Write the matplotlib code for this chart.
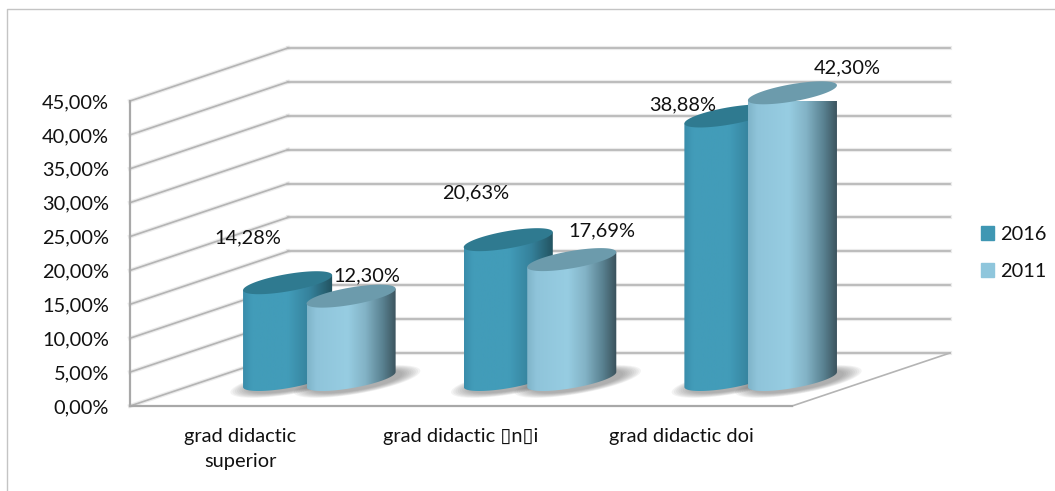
import numpy as np
import matplotlib
matplotlib.use('Agg')
import matplotlib.pyplot as plt
from matplotlib.colors import LinearSegmentedColormap
from matplotlib.lines import Line2D
from matplotlib.patches import Patch, Polygon

plt.rcParams['font.family'] = ['Lato', 'DejaVu Sans']

categories = ['grad didactic\nsuperior', 'grad didactic \u25afn\u25afi', 'grad didactic doi']
val_2016 = [14.28, 20.63, 38.88]
val_2011 = [12.30, 17.69, 42.30]
labels_2016 = ['14,28%', '20,63%', '38,88%']
labels_2011 = ['12,30%', '17,69%', '42,30%']
ticks = [0, 5, 10, 15, 20, 25, 30, 35, 40, 45]
tick_labels = ['0,00%', '5,00%', '10,00%', '15,00%', '20,00%', '25,00%', '30,00%', '35,00%', '40,00%', '45,00%']

# label offsets from the top of each cylinder, pixels
off_2016 = [(-40, 45), (-33, 47), (-46, 11)]
off_2011 = [(16, 20), (30, 29), (55, 25)]

fs = 14.4
fig = plt.figure(figsize=(10.55, 4.91), dpi=100)
ax = fig.add_axes([130 / 1055, (491 - 406) / 491, 662 / 1055, 305 / 491])
ax.set_xlim(0, 3)
ax.set_ylim(0, 45)

px = 3 / 662      # data x per pixel
py = 45 / 305     # data y per pixel
dx, dy = 158 * px, 53 * py   # depth of the fake 3d box

for t in ticks:
    for lw, c, al in [(3.0, '#d4d4d4', 0.45), (1.2, '#b4b4b4', 1)]:
        ax.plot([dx, 3 + dx], [t + dy, t + dy], color=c, lw=lw, alpha=al, clip_on=False, zorder=1)
        ax.plot([0, dx], [t, t + dy], color=c, lw=lw, alpha=al, clip_on=False, zorder=1)
ax.plot([3, 3 + dx], [0, dy], color='#b4b4b4', lw=1.2, clip_on=False, zorder=1)

cmap_dark = LinearSegmentedColormap.from_list('d', [(0, '#3a8dab'), (.1, '#429cb9'), (.5, '#429cb9'),
                                                    (.75, '#35819b'), (1, '#22525f')])
cmap_light = LinearSegmentedColormap.from_list('l', [(0, '#7fb4c9'), (.1, '#8fc4da'), (.45, '#97cde2'),
                                                     (.65, '#83b3c6'), (.85, '#58808f'), (1, '#3a515b')])
A, B, C = 33.8, 29, 11.5   # ellipse shape in pixels
T0 = np.arctan2(B, A)


def ellipse(cx, cy, t):
    return cx + (A * np.cos(t) + B * np.sin(t)) * px, cy + C * np.sin(t) * py


def cylinder(cx, val, cmap, top_c, z):
    base = dy / 2
    full = np.linspace(0, 2 * np.pi, 90)
    # soft shadow on the floor
    sx, sy = ellipse(cx, base, full)
    for grow in np.linspace(1.42, 1.02, 9):
        ax.fill(cx + (sx - cx) * grow + 6 * px, base + (sy - base) * grow - 2 * py, color='#606060',
                alpha=.07, lw=0, clip_on=False, zorder=z - 0.2)
    # body: front half of the base ellipse, then straight up to the top
    bx, by = ellipse(cx, base, np.linspace(T0 + np.pi, T0 + 2 * np.pi, 90))
    poly = np.column_stack([np.r_[bx, bx[-1], bx[0]], np.r_[by, by[-1] + val, by[0] + val]])
    im = ax.imshow(np.linspace(0, 1, 128)[None, :], cmap=cmap, aspect='auto', zorder=z,
                   extent=[bx.min(), bx.max(), 0, 45])
    im.set_clip_box(fig.bbox)
    im.set_clip_path(Polygon(poly, closed=True, transform=ax.transData))
    tx, ty = ellipse(cx, base + val, full)
    ax.fill(tx, ty, color=top_c, lw=0, clip_on=False, zorder=z + 0.1)


shift = 31.75 * px
for i in range(3):
    c = i + 0.5 + dx / 2
    cylinder(c - shift, val_2016[i], cmap_dark, '#2f7a90', 3 + i)
    cylinder(c + shift, val_2011[i], cmap_light, '#6c9bac', 3.5 + i)
    for x, v, lab, off in [(c - shift, val_2016[i], labels_2016[i], off_2016[i]),
                           (c + shift, val_2011[i], labels_2011[i], off_2011[i])]:
        ax.annotate(lab, (x, v + dy / 2), xytext=off, textcoords='offset pixels', ha='center', va='center',
                    fontsize=fs, color='#111111', zorder=10, annotation_clip=False)

ax.set_xlim(0, 3)
ax.set_ylim(0, 45)
ax.patch.set_visible(False)
for s in ['top', 'right']:
    ax.spines[s].set_visible(False)
for s in ['left', 'bottom']:
    ax.spines[s].set_color('#a8a8a8')
    ax.spines[s].set_linewidth(1.6)
ax.set_yticks(ticks)
ax.set_yticklabels(tick_labels, fontsize=fs, color='#111111')
ax.set_xticks([0.5, 1.5, 2.5])
ax.set_xticklabels(categories, fontsize=fs, color='#111111', linespacing=1.6)
ax.tick_params(axis='y', length=0, pad=15)
ax.tick_params(axis='x', length=0, pad=15.5)

h = [Patch(color='#3f97b3', label='2016'), Patch(color='#8fc6dc', label='2011')]
fig.legend(handles=h, loc='center left', bbox_to_anchor=(981 / 1055, 1 - 253 / 491), frameon=False,
           fontsize=fs, handlelength=0.65, handleheight=0.65, handletextpad=0.3, labelspacing=1.0,
           labelcolor='#111111', borderpad=0, borderaxespad=0)

# chart area border
fig.add_artist(Line2D([7 / 1055, 7 / 1055, 1], [0, 1 - 9 / 491, 1 - 9 / 491], color='#c4c4c4', lw=1))

fig.savefig('out.png', dpi=100)
